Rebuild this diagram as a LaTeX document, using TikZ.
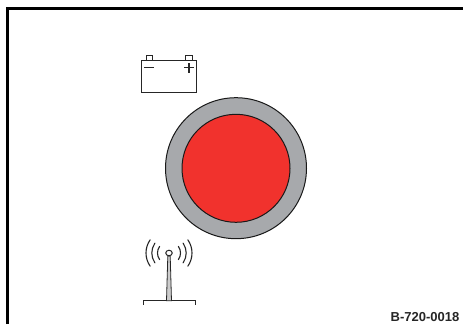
\documentclass[tikz,border=0pt]{standalone}
\usepackage{fontspec}
\usetikzlibrary{shapes.geometric}
\setmainfont{Liberation Sans}
\definecolor{ringgray}{RGB}{167,169,172}
\definecolor{redfill}{RGB}{241,50,45}
\tikzset{
  x=1pt,y=-1pt,
  icon/.style={draw=black!85,line width=1pt},
  wave/.style={draw=black!85,line width=1.1pt,line cap=round},
}
\begin{document}
\begin{tikzpicture}
\useasboundingbox (0,0) rectangle (463,324);
\fill[white] (0,0) rectangle (463,324);
% frame
\draw[line width=3pt,black] (7.5,324) -- (7.5,8.5) -- (463,8.5);
% gauge
\node (ring) at (236,168.2) [circle,draw=black!90,line width=1pt,fill=ringgray,minimum size=141pt,inner sep=0pt] {};
\node (disc) at (236,168.3) [circle,draw=black!90,line width=1pt,fill=redfill,minimum size=108pt,inner sep=0pt] {};
% battery
\draw[icon] (141,60.5) rectangle (196.7,92.3);
\draw[icon] (146,60.5) -- (146,55.7) -- (152.5,55.7) -- (152.5,60.5);
\draw[icon] (185.5,60.5) -- (185.5,55.7) -- (192,55.7) -- (192,60.5);
\draw[icon,line width=1.3pt] (144,67.8) -- (154,67.8);
\draw[icon,line width=1.3pt] (184,67.8) -- (194,67.8) (189,63) -- (189,73.3);
% antenna
\draw[icon] (143,304.5) -- (143,300.8) -- (195,300.8) -- (195,304.5);
\draw[draw=black!85,fill=black!20,line width=0.8pt] (166.5,300.8) -- (167.8,256) -- (170.2,256) -- (171.5,300.8) -- cycle;
\node (tip) at (169,253) [ellipse,draw=black!85,line width=1pt,fill=white,minimum width=6.5pt,minimum height=5.5pt,inner sep=0pt] {};
\foreach \r in {11.5,17.2,23}{
  \draw[wave] (169,253) ++(-35:\r) arc[start angle=-35,end angle=35,radius=\r];
  \draw[wave] (169,253) ++(145:\r) arc[start angle=145,end angle=215,radius=\r];
}
\node (code) at (425,317) [font=\bfseries\fontsize{13pt}{15pt}\selectfont,text=black!85,inner sep=0pt] {B-720-0018};
\end{tikzpicture}
\end{document}
